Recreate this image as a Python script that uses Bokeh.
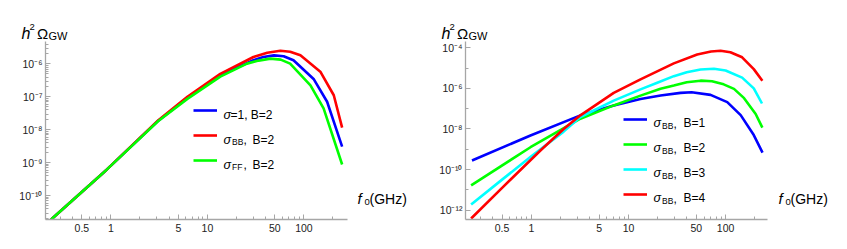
from bokeh.plotting import figure
from bokeh.models import (Range1d, FixedTicker, CustomJSTickFormatter, Label,
                          Legend, LegendItem)
from bokeh.layouts import row, column
from bokeh.embed import file_html
from bokeh.resources import INLINE

FONT = "Liberation Sans"

# ---------------- data ----------------
# left panel: B = 2
left_f_blue = [0.24, 0.91, 3.1, 6.2, 13.6, 30, 38, 49, 61.7, 78, 126, 174, 249]
left_blue = [1.9e-11, 6.3e-10, 1.9e-8, 9.3e-8, 4.6e-7, 1.29e-6, 1.62e-6, 1.82e-6,
             1.70e-6, 1.29e-6, 3.5e-7, 7.1e-8, 3.1e-9]
left_f_red = [0.24, 0.91, 3.1, 6.2, 13.6, 30, 41.7, 57, 72, 92, 148, 204, 249]
left_red = [1.9e-11, 6.3e-10, 1.95e-8, 1.0e-7, 5.0e-7, 1.62e-6, 2.19e-6, 2.5e-6,
            2.34e-6, 1.82e-6, 5.8e-7, 1.12e-7, 1.17e-8]
left_f_green = [0.24, 0.91, 3.1, 6.2, 13.6, 25.7, 33.9, 45, 57.5, 72, 117, 160, 249]
left_green = [1.9e-11, 6.3e-10, 1.85e-8, 8.7e-8, 4.1e-7, 1.02e-6, 1.26e-6, 1.45e-6,
              1.35e-6, 1.02e-6, 2.24e-7, 4.5e-8, 8.9e-10]

# right panel: sigma_BB, B = 1..4
right_f_b1 = [0.245, 0.98, 3.2, 7.05, 13.3, 21.4, 34.4, 44.7, 70, 104, 143, 195, 240]
right_b1 = [2.8e-10, 4.8e-9, 4.7e-8, 1.45e-7, 3.0e-7, 4.5e-7, 6.0e-7, 6.5e-7,
            4.8e-7, 2.1e-7, 4.8e-8, 5.0e-9, 6.9e-10]
right_f_b2 = [0.24, 0.98, 3.2, 7.05, 13.3, 21.4, 29.3, 39.8, 55.2, 72.4, 95.5, 122,
              155, 204, 239]
right_b2 = [1.66e-11, 1.26e-9, 3.2e-8, 1.45e-7, 4.4e-7, 9.5e-7, 1.38e-6, 2.0e-6,
            2.4e-6, 2.24e-6, 1.58e-6, 9.5e-7, 3.3e-7, 5.5e-8, 1.17e-8]
right_f_b3 = [0.24, 0.5, 1.0, 2.15, 3.2, 7.05, 13.3, 19.8, 29.3, 39.8, 55.2, 75.9,
              100, 148, 195, 237]
right_b3 = [1.9e-12, 3.2e-11, 4.5e-10, 7.4e-9, 3.9e-8, 2.5e-7, 8.9e-7, 1.9e-6,
            4.0e-6, 6.3e-6, 8.5e-6, 9.3e-6, 7.6e-6, 3.4e-6, 1.0e-6, 1.8e-7]
right_f_b4 = [0.24, 0.5, 1.24, 2.15, 3.2, 7.05, 13.3, 29.3, 51, 70.8, 88.7, 112,
              148, 195, 239]
right_b4 = [3.9e-13, 1.26e-11, 8.7e-10, 1.0e-8, 4.7e-8, 6.0e-7, 2.8e-6, 1.7e-5,
            4.7e-5, 6.6e-5, 7.1e-5, 6.0e-5, 3.4e-5, 8.9e-6, 2.4e-6]

x_tick_values = [0.5, 1, 5, 10, 50, 100]
x_minor_values = [0.3, 0.4, 0.6, 0.7, 0.8, 0.9, 2, 3, 4, 6, 7, 8, 9,
                  20, 30, 40, 60, 70, 80, 90, 200]
left_y_ticks = [1e-10, 1e-9, 1e-8, 1e-7, 1e-6]
right_y_ticks = [1e-12, 1e-10, 1e-8, 1e-6, 1e-4]
right_y_minor = [1e-11, 1e-9, 1e-7, 1e-5]

left_labels = ["=1, B=2", "BB", "FF"]
right_labels = ["B=1", "B=2", "B=3", "B=4"]

BLUE, RED, GREEN, CYAN = "#0000ff", "#ff0000", "#00ff00", "#00ffff"
AXIS = "#a6a6a6"
LW = 2.6

sup_js = """
const sup = {"-":"\u207b","0":"\u2070","1":"\u00b9","2":"\u00b2","3":"\u00b3",
             "4":"\u2074","5":"\u2075","6":"\u2076","7":"\u2077","8":"\u2078","9":"\u2079"};
const e = Math.round(Math.log10(tick));
return "10" + String(e).split("").map(c => sup[c]).join("");
"""

TOP_H = 41          # height of the strip holding the y title
FRAME_TOP = 41      # page y of frame top
FRAME_BOTTOM = 219  # page y of frame bottom
FRAME_W = 302
BOTTOM_B = 28
MAIN_H = FRAME_BOTTOM - FRAME_TOP + BOTTOM_B
PAGE_BOTTOM = FRAME_TOP + MAIN_H


def make_fig(xr, yr, yticks, yminor, left_border, right_border):
    p = figure(output_backend="svg", toolbar_location=None,
               x_axis_type="log", y_axis_type="log",
               x_range=Range1d(*xr), y_range=Range1d(*yr),
               frame_width=FRAME_W, frame_height=FRAME_BOTTOM - FRAME_TOP,
               min_border_left=left_border, min_border_right=right_border,
               min_border_top=0, min_border_bottom=BOTTOM_B)
    p.outline_line_color = None
    p.grid.visible = False
    for ax in (p.xaxis[0], p.yaxis[0]):
        ax.axis_line_color = AXIS
        ax.axis_line_width = 1.3
        ax.major_tick_line_color = AXIS
        ax.minor_tick_line_color = AXIS
        ax.major_tick_in = 5
        ax.major_tick_out = 0
        ax.minor_tick_in = 3
        ax.minor_tick_out = 0
        ax.major_label_text_font = FONT
        ax.major_label_text_font_size = "10.5px"
        ax.major_label_text_color = "#222222"
    p.xaxis[0].ticker = FixedTicker(ticks=x_tick_values, minor_ticks=x_minor_values)
    p.xaxis[0].formatter = CustomJSTickFormatter(code="return String(tick);")
    p.xaxis[0].major_label_standoff = 4
    p.yaxis[0].ticker = FixedTicker(ticks=yticks, minor_ticks=yminor)
    p.yaxis[0].formatter = CustomJSTickFormatter(code=sup_js)
    p.yaxis[0].major_label_standoff = 3
    return p


def blank(w, h):
    f = figure(output_backend="svg", toolbar_location=None, width=w, height=h,
               x_range=Range1d(0, w), y_range=Range1d(0, h), min_border=0,
               x_axis_location=None, y_axis_location=None)
    f.outline_line_color = None
    f.grid.visible = False
    return f


def mk(x, y, text, size, italic=False, units="screen"):
    return Label(x=x, y=y, x_units=units, y_units=units, text=text,
                 text_font=FONT, text_font_size=f"{size}px",
                 text_font_style="italic" if italic else "normal",
                 text_color="black", text_align="left",
                 text_baseline="alphabetic")


def lab(p, frame_left, X, Y, text, size, italic=False):
    # inside the plot frame: screen coords measured from frame bottom-left
    p.add_layout(mk(X - frame_left, FRAME_BOTTOM - Y, text, size, italic))


def title_strip(width):
    f = blank(width, TOP_H)
    for X, Y, t, s, it in [(21, 33.3, "h", 16, True), (29, 26, "2", 9.5, False),
                           (36.5, 33.3, "\u03a9", 15, False),
                           (48, 35.5, "GW", 11, False)]:
        f.add_layout(mk(X, TOP_H - Y, t, s, it, units="data"))
    return f


def side_strip(width, dx):
    f = blank(width, MAIN_H)
    for X, Y, t, s, it in [(357, 223, "f", 15, True), (364, 226.5, "0", 9.5, False),
                           (369, 223, "(GHz)", 14, False)]:
        f.add_layout(mk(X + dx, PAGE_BOTTOM - Y, t, s, it, units="data"))
    return f


# ---------------- left panel ----------------
LF = 45
RB = 5
p1 = make_fig((0.21, 283), (10 ** -10.72, 10 ** -5.32), left_y_ticks,
              [k * 10.0 ** e for e in range(-11, -5) for k in range(2, 10)], LF, RB)
r1 = p1.line(left_f_blue, left_blue, line_color=BLUE, line_width=LW)
r2 = p1.line(left_f_red, left_red, line_color=RED, line_width=LW)
r3 = p1.line(left_f_green, left_green, line_color=GREEN, line_width=LW)
leg1 = Legend(items=[LegendItem(label=" ", renderers=[r]) for r in (r1, r2, r3)],
              location=(193 - LF, FRAME_BOTTOM - 167), glyph_width=24,
              glyph_height=14, label_height=14, label_width=1, label_standoff=0,
              spacing=11, padding=0, margin=0, border_line_color=None,
              background_fill_alpha=0, label_text_font_size="1px")
p1.add_layout(leg1)
for i, yc in enumerate([110, 135, 160]):
    lab(p1, LF, 223, yc + 4, "\u03c3", 12.5, True)
    if i == 0:
        lab(p1, LF, 230, yc + 4, left_labels[0], 12)
    else:
        lab(p1, LF, 231.5, yc + 6.5, left_labels[i], 8.5)
        lab(p1, LF, 243, yc + 4, ",", 12)
        lab(p1, LF, 252, yc + 4, "B=2", 12)

main1_w = LF + FRAME_W + RB
t1 = title_strip(420)
s1 = side_strip(420 - main1_w, -main1_w)

# ---------------- right panel ----------------
RF = 45
p2 = make_fig((0.21, 270), (10 ** -12.46, 10 ** -3.69), right_y_ticks,
              right_y_minor, RF, RB)
q1 = p2.line(right_f_b1, right_b1, line_color=BLUE, line_width=LW)
q2 = p2.line(right_f_b2, right_b2, line_color=GREEN, line_width=LW)
q3 = p2.line(right_f_b3, right_b3, line_color=CYAN, line_width=LW)
q4 = p2.line(right_f_b4, right_b4, line_color=RED, line_width=LW)
leg2 = Legend(items=[LegendItem(label=" ", renderers=[r]) for r in (q1, q2, q3, q4)],
              location=(623 - 465, FRAME_BOTTOM - 200.5), glyph_width=24,
              glyph_height=14, label_height=14, label_width=1, label_standoff=0,
              spacing=11, padding=0, margin=0, border_line_color=None,
              background_fill_alpha=0, label_text_font_size="1px")
p2.add_layout(leg2)
for i, yc in enumerate([118.5, 143.5, 168.5, 193.5]):
    lab(p2, 465, 653, yc + 4, "\u03c3", 12.5, True)
    lab(p2, 465, 661.5, yc + 6.5, "BB", 8.5)
    lab(p2, 465, 673, yc + 4, ",", 12)
    lab(p2, 465, 683, yc + 4, right_labels[i], 12)

main2_w = RF + FRAME_W + RB
t2 = title_strip(425)
s2 = side_strip(425 - main2_w, 1 - main2_w)

layout = row(column(t1, row(p1, s1)), column(t2, row(p2, s2)))
open("out.html", "w").write(file_html(layout, INLINE))
